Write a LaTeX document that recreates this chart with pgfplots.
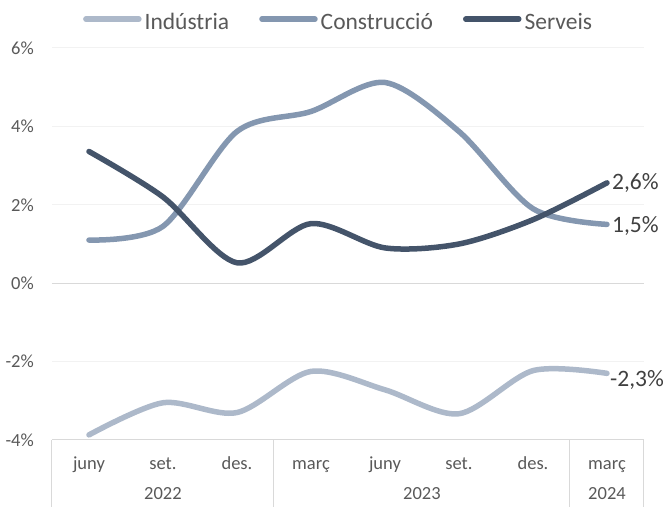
\documentclass[border=0pt]{standalone}
\usepackage{fontspec}
\setmainfont{Carlito}
\usepackage{pgfplots}
\pgfplotsset{compat=1.18}

\definecolor{ind}{HTML}{ADB9CA}
\definecolor{con}{HTML}{8497B0}
\definecolor{ser}{HTML}{44546A}
\definecolor{txt}{HTML}{595959}
\definecolor{lab}{HTML}{404040}
\definecolor{grd}{HTML}{F2F2F2}
\definecolor{axl}{HTML}{D9D9D9}

\newcommand\tickfont{\fontsize{18.5bp}{22bp}\selectfont}
\newcommand\labfont{\fontsize{23.5bp}{28bp}\selectfont}

\begin{document}
\begin{tikzpicture}
  \begin{axis}[
      scale only axis, width=592bp, height=392bp,
      xmin=-0.5, xmax=7.5, ymin=-4, ymax=6,
      clip=false,
      axis line style={draw=none},
      major tick length=0pt,
      ytick={-4,-2,0,2,4,6},
      yticklabels={-4\%,-2\%,0\%,2\%,4\%,6\%},
      ymajorgrids, grid style={draw=grd, line width=1bp},
      xtick={0,...,7},
      xticklabels={juny,set.,des.,març,juny,set.,des.,març},
      yticklabel style={font=\tickfont, text=txt, inner sep=0pt, anchor=east, xshift=-18bp},
      xticklabel style={font=\tickfont, text=txt, inner sep=0pt, anchor=base, yshift=-30bp},
      every axis plot/.append style={line width=5.5bp, smooth, tension=0.5, line cap=round, line join=round},
      legend columns=3,
      legend style={at={(rel axis cs:0.485,1.066)}, anchor=center, draw=none, fill=none,
        font=\labfont, text=txt, inner sep=0pt,
        nodes={inner xsep=3bp, inner ysep=0pt},
        /tikz/every even column/.append style={column sep=27bp}},
      legend image code/.code={\draw[#1] (0bp,0.3em) -- (53bp,0.3em);},
    ]
    % grid extras and category box
    \draw[axl, line width=1bp] (axis cs:-0.5,0) -- (axis cs:7.5,0);
    \draw[axl, line width=1bp] (axis cs:-0.5,-4) -- (axis cs:7.5,-4);
    \draw[axl, line width=1bp] (axis cs:-0.5,-4) -- (axis cs:-0.5,-5.7);
    \draw[axl, line width=1bp] (axis cs:2.5,-4) -- (axis cs:2.5,-5.7);
    \draw[axl, line width=1bp] (axis cs:6.5,-4) -- (axis cs:6.5,-5.7);
    \draw[axl, line width=1bp] (axis cs:7.5,-4) -- (axis cs:7.5,-5.7);

    % Industria
    \addplot[ind] coordinates {
      (0,-3.87) (1,-3.05) (2,-3.30) (3,-2.25) (4,-2.72) (5,-3.33) (6,-2.23) (7,-2.30)
    };
    % Construccio
    \addplot[con] coordinates {
      (0,1.10) (1,1.45) (2,3.87) (3,4.38) (4,5.12) (5,3.87) (6,1.90) (7,1.50)
    };
    % Serveis
    \addplot[ser] coordinates {
      (0,3.36) (1,2.20) (2,0.52) (3,1.52) (4,0.90) (5,1.00) (6,1.62) (7,2.56)
    };
    \legend{Indústria, Construcció, Serveis}

    \node[font=\labfont, text=lab, anchor=west, inner sep=0pt, xshift=5bp] at (axis cs:7,2.56) {2,6\%};
    \node[font=\labfont, text=lab, anchor=west, inner sep=0pt, xshift=5bp, yshift=-2bp] at (axis cs:7,1.5) {1,5\%};
    \node[font=\labfont, text=lab, anchor=west, inner sep=0pt, xshift=3bp, yshift=-7bp] at (axis cs:7,-2.3) {-2,3\%};

    \node[font=\tickfont, text=txt, anchor=base, inner sep=0pt, yshift=-60bp] at (axis cs:1,-4) {2022};
    \node[font=\tickfont, text=txt, anchor=base, inner sep=0pt, yshift=-60bp] at (axis cs:4.5,-4) {2023};
    \node[font=\tickfont, text=txt, anchor=base, inner sep=0pt, yshift=-60bp] at (axis cs:7,-4) {2024};

    \coordinate (BL) at (rel axis cs:-0.0878,-0.1684);
    \coordinate (TR) at (rel axis cs:1.0321,1.1224);
  \end{axis}
  \pgfresetboundingbox
  \path[use as bounding box] (BL) rectangle (TR);
\end{tikzpicture}
\end{document}
